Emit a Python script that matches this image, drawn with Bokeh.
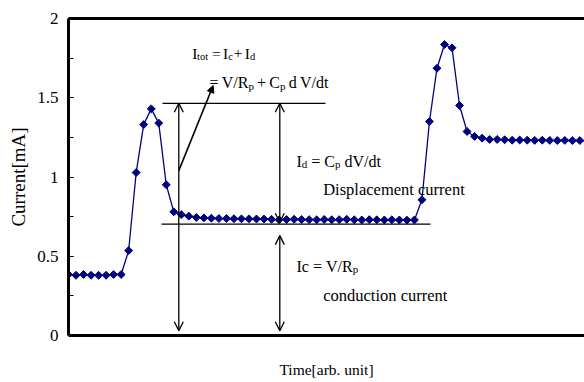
import numpy as np
from bokeh.plotting import figure
from bokeh.models import (Range1d, LinearAxis, FixedTicker, SingleIntervalTicker,
                          Arrow, OpenHead, NormalHead, ColumnDataSource)
from bokeh.core.properties import value
from bokeh.embed import file_html
from bokeh.resources import INLINE

# ---------------- data ----------------
time_index = list(range(70))
current_mA = [
    0.385, 0.38, 0.385, 0.38, 0.38, 0.38, 0.385, 0.385,          # 0-7
    0.536, 1.028, 1.331, 1.43, 1.34, 0.951,                        # 8-13
    0.78, 0.763, 0.753, 0.745, 0.742, 0.74,                        # 14-19
    0.738, 0.738, 0.737, 0.736, 0.736, 0.735, 0.735, 0.733, 0.73,  # 20-28
    0.732, 0.733, 0.732, 0.731, 0.73, 0.732, 0.73, 0.731, 0.733,   # 29-37
    0.73, 0.729, 0.731, 0.73, 0.729, 0.73, 0.729, 0.728, 0.729,    # 38-46
    0.856, 1.35, 1.686, 1.836, 1.815, 1.451, 1.287, 1.256,         # 47-54
    1.245, 1.237, 1.237, 1.235, 1.232, 1.233, 1.232, 1.231, 1.232,  # 55-63
    1.231, 1.23, 1.231, 1.23, 1.23, 1.23,                          # 64-69
]
y_ticks = [0, 0.5, 1, 1.5, 2]
y_tick_labels = ["0", "0.5", "1", "1.5", "2"]

# annotation levels (mA)
i_tot_level = 1.465
i_c_level = 0.703

FONT = "Liberation Serif"
X0_PX, X_STEP = 68.0, 7.52      # frame left / px per index
Y0_PX, Y_SCALE = 335.0, 158.5   # frame bottom / px per mA
TEXT_SHIFT = -4.5               # baseline correction (px)

p = figure(width=584, height=382, x_range=Range1d(0, 516 / X_STEP),
           y_range=Range1d(0, 2), output_backend="svg", toolbar_location=None,
           min_border_left=68, min_border_right=0, min_border_top=18,
           min_border_bottom=47, background_fill_color="white",
           border_fill_color="white")
p.outline_line_color = None
p.grid.visible = False

# y axis
ya = p.yaxis[0]
ya.ticker = SingleIntervalTicker(interval=0.5, num_minor_ticks=2)
ya.major_label_overrides = {t: l for t, l in zip(y_ticks, y_tick_labels)}
ya.axis_line_width = 3
ya.axis_line_color = "black"
ya.major_tick_in = 5
ya.major_tick_out = 0
ya.minor_tick_in = 5
ya.minor_tick_out = 0
ya.major_tick_line_width = 1.2
ya.minor_tick_line_width = 1.2
ya.major_label_text_font = FONT
ya.major_label_text_font_size = "17px"
ya.major_label_text_color = "black"
ya.major_label_standoff = 10
ya.axis_label = "Current[mA]"
ya.axis_label_text_font = FONT
ya.axis_label_text_font_size = "19px"
ya.axis_label_text_font_style = "normal"
ya.axis_label_text_color = "black"
ya.axis_label_standoff = 5

# x axis
xa = p.xaxis[0]
xa.ticker = FixedTicker(ticks=[])
xa.axis_line_width = 3
xa.axis_line_color = "black"
xa.major_tick_in = 0
xa.major_tick_out = 0
xa.minor_tick_in = 0
xa.minor_tick_out = 0
xa.axis_label = "Time[arb. unit]"
xa.axis_label_text_font = FONT
xa.axis_label_text_font_size = "15.5px"
xa.axis_label_text_font_style = "normal"
xa.axis_label_text_color = "black"
xa.axis_label_standoff = 25

top = LinearAxis(ticker=FixedTicker(ticks=[]), axis_line_width=3,
                 axis_line_color="black", major_tick_in=0, major_tick_out=0,
                 minor_tick_in=0, minor_tick_out=0,
                 major_label_text_font_size="0px")
p.add_layout(top, "above")

# data
p.line(time_index, current_mA, line_color="#000080", line_width=1.3)
p.scatter(time_index, current_mA, marker="square", angle=np.pi / 4, size=5.6,
          fill_color="#000080", line_color="#000080", line_width=1)

# annotation lines
def dx(px):
    return (px - X0_PX) / X_STEP

def dy(py):
    return (Y0_PX - py) / Y_SCALE

p.segment(x0=[dx(162), dx(161)], y0=[i_tot_level, i_c_level],
          x1=[dx(325), dx(430)], y1=[i_tot_level, i_c_level],
          line_color="black", line_width=1.2)

ax_left = dx(178.3)
ax_right = dx(279.3)
for xs, y0, y1 in [(ax_left, 0.03, i_tot_level), (ax_right, i_c_level + 0.012, i_tot_level),
                   (ax_right, 0.03, 0.63)]:
    p.add_layout(Arrow(start=OpenHead(size=9, line_width=1.3, line_color="black"),
                       end=OpenHead(size=9, line_width=1.3, line_color="black"),
                       x_start=xs, y_start=y0, x_end=xs, y_end=y1,
                       line_width=1.3, line_color="black"))

p.add_layout(Arrow(end=NormalHead(size=7, fill_color="black", line_color="black"),
                   x_start=ax_left, y_start=1.04, x_end=dx(212.7), y_end=1.577,
                   line_width=1.6, line_color="black"))

# annotation text (token layout with subscripts)
ADV = {' ': 250, '=': 564, '+': 564, 'I': 333, 'V': 722, '/': 278, 'R': 667,
       'C': 667, 'd': 500, 't': 278, 'o': 500, 'c': 444, 'p': 500}

tx, ty, tt, tf = [], [], [], []

def put(tok, xpx, base, size):
    tx.append(dx(xpx))
    ty.append(dy(base + TEXT_SHIFT))
    tt.append(tok)
    tf.append(f"{size}px")

def layout(tokens, x0, base, size=16, sub=11, space=0.25):
    x = x0
    for tok, is_sub in tokens:
        s = sub if is_sub else size
        if tok == " ":
            x += space * size
            continue
        put(tok, x, base + 3 if is_sub else base, s)
        x += sum(ADV[c] for c in tok) / 1000 * s

# line 1 placed token by token
for tok, xpx, is_sub in [("I", 191.7, 0), ("tot", 196.6, 1), ("=", 211.5, 0),
                         ("I", 222.5, 0), ("c", 227.8, 1), ("+", 233.3, 0),
                         ("I", 244.2, 0), ("d", 249.4, 1)]:
    put(tok, xpx, 57.3 + (3 if is_sub else 0), 10.5 if is_sub else 15.5)

layout([("=", 0), (" ", 0), ("V/R", 0), ("p", 1), (" ", 0), ("+", 0), (" ", 0),
        ("C", 0), ("p", 1), (" ", 0), ("d", 0), (" ", 0), ("V/dt", 0)], 209, 86.7, space=0.2)
layout([("I", 0), ("d", 1), (" ", 0), ("=", 0), (" ", 0), ("C", 0), ("p", 1),
        (" ", 0), ("dV/dt", 0)], 296, 165)
layout([("Ic", 0), (" ", 0), ("=", 0), (" ", 0), ("V/R", 0), ("p", 1)], 296, 270)

put("Displacement current", 322.7, 193.3, 16.5)
put("conduction current", 322.7, 299, 16.5)

src = ColumnDataSource(dict(x=tx, y=ty, text=tt, fs=tf))
p.text(x="x", y="y", text="text", source=src, text_font=value(FONT),
       text_font_size="fs", text_baseline="alphabetic", text_align="left",
       text_color="black")

open("out.html", "w").write(file_html(p, INLINE))
